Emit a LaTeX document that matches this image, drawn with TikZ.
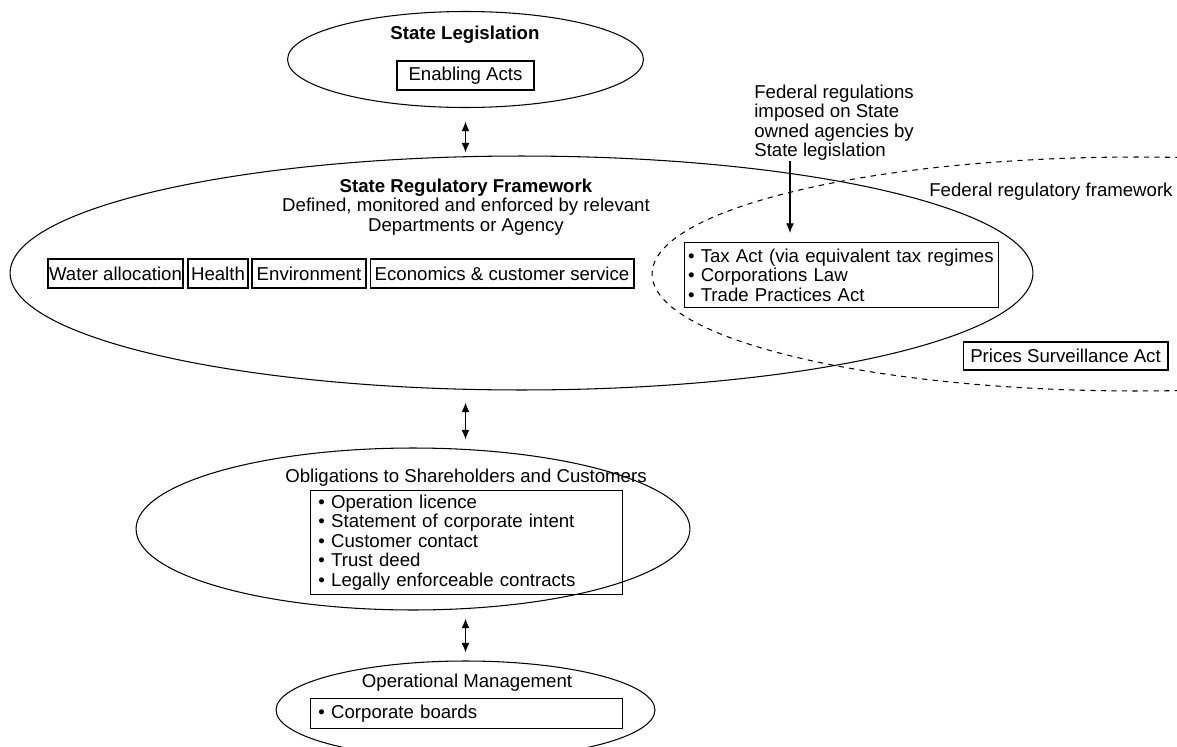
\documentclass[tikz,border=0pt]{standalone}
\usepackage{fontspec}
\setmainfont{Liberation Sans}
\usetikzlibrary{arrows.meta,positioning,shapes.geometric}

\begin{document}
\begin{tikzpicture}[x=0.02cm,y=-0.02cm,>={Latex[length=5.5pt,width=4.5pt]},
  font=\fontsize{10.6pt}{11.1pt}\selectfont,
  oval/.style={draw,ellipse,inner sep=0pt,line width=0.6pt},
  box/.style={draw,line width=0.6pt,inner xsep=0.5pt,inner ysep=0pt,minimum height=0.58cm},
  listbox/.style={draw,line width=0.6pt,align=left,inner xsep=4.5pt,inner ysep=0pt,anchor=north west,text width=5.93cm},
  link/.style={<->,line width=0.6pt}]
  \useasboundingbox (0,0) rectangle (1177,747);
  \clip (0,0) rectangle (1177,747);
  \node[oval,minimum width=7.12cm,minimum height=1.92cm] (legis) at (465.5,59.5) {};
  \node[oval,minimum width=20.46cm,minimum height=4.68cm] (srf) at (521.5,273) {};
  \node[oval,dashed,minimum width=19.4cm,minimum height=4.68cm] (fedoval) at (1137,274) {};
  \node[oval,minimum width=11.08cm,minimum height=3.24cm] (oblig) at (413,529) {};
  \node[oval,minimum width=7.58cm,minimum height=1.96cm] (ops) at (465.5,710) {};

  \node[font=\fontsize{10.6pt}{11.1pt}\selectfont\bfseries] (legistitle) at (465,35) {State Legislation};
  \node[box,minimum width=2.74cm] (acts) at (465.5,75.5) {Enabling Acts};

  \node[align=center] (srftitle) at (466,207) {\textbf{State Regulatory Framework}\\Defined, monitored and enforced by relevant\\Departments or Agency};
  \node[box,minimum width=2.7cm] (water) at (115.5,273.5) {Water allocation};
  \node[box,minimum width=1.2cm] (health) at (218,273.5) {Health};
  \node[box,minimum width=2.28cm] (env) at (309,273.5) {Environment};
  \node[box,minimum width=5.28cm] (econ) at (502,273.5) {Economics \& customer service};

  \node[anchor=west,align=left,inner sep=0pt] (fedtext) at (754,122.5) {Federal regulations\\imposed on State\\owned agencies by\\State legislation};
  \coordinate (fedtip) at (790,161);
  \node[listbox,minimum height=1.3cm,inner xsep=2pt,text width=6.14cm] (tax) at (684,242) {\textbullet\ Tax Act (via equivalent tax regimes\\\textbullet\ Corporations Law\\\textbullet\ Trade Practices Act};
  \node[anchor=west,inner sep=0pt] (fedlabel) at (929,192) {Federal regulatory framework};
  \node[box,minimum width=4.1cm,minimum height=0.56cm] (prices) at (1065.5,356) {Prices Surveillance Act};

  \node (obligtitle) at (466,478) {Obligations to Shareholders and Customers};
  \node[listbox,minimum height=2.08cm] (duties) at (310,490) {\textbullet\ Operation licence\\\textbullet\ Statement of corporate intent\\\textbullet\ Customer contact\\\textbullet\ Trust deed\\\textbullet\ Legally enforceable contracts};

  \node (opstitle) at (467,683) {Operational Management};
  \node[listbox,minimum height=0.6cm] (boards) at (310,698) {\textbullet\ Corporate boards};

  \draw[link,shorten <=0.27cm,shorten >=0.06cm] (legis.south) -- (legis.south |- srf.north);
  \draw[link,shorten <=0.24cm,shorten >=0.16cm] (legis.south |- srf.south) -- (legis.south |- oblig.north);
  \draw[link,shorten <=0.16cm,shorten >=0.16cm] (legis.south |- oblig.south) -- (legis.south |- ops.north);
  \draw[->,line width=0.6pt,shorten >=0.18cm] (fedtip) -- (fedtip |- tax.north);
\end{tikzpicture}
\end{document}
